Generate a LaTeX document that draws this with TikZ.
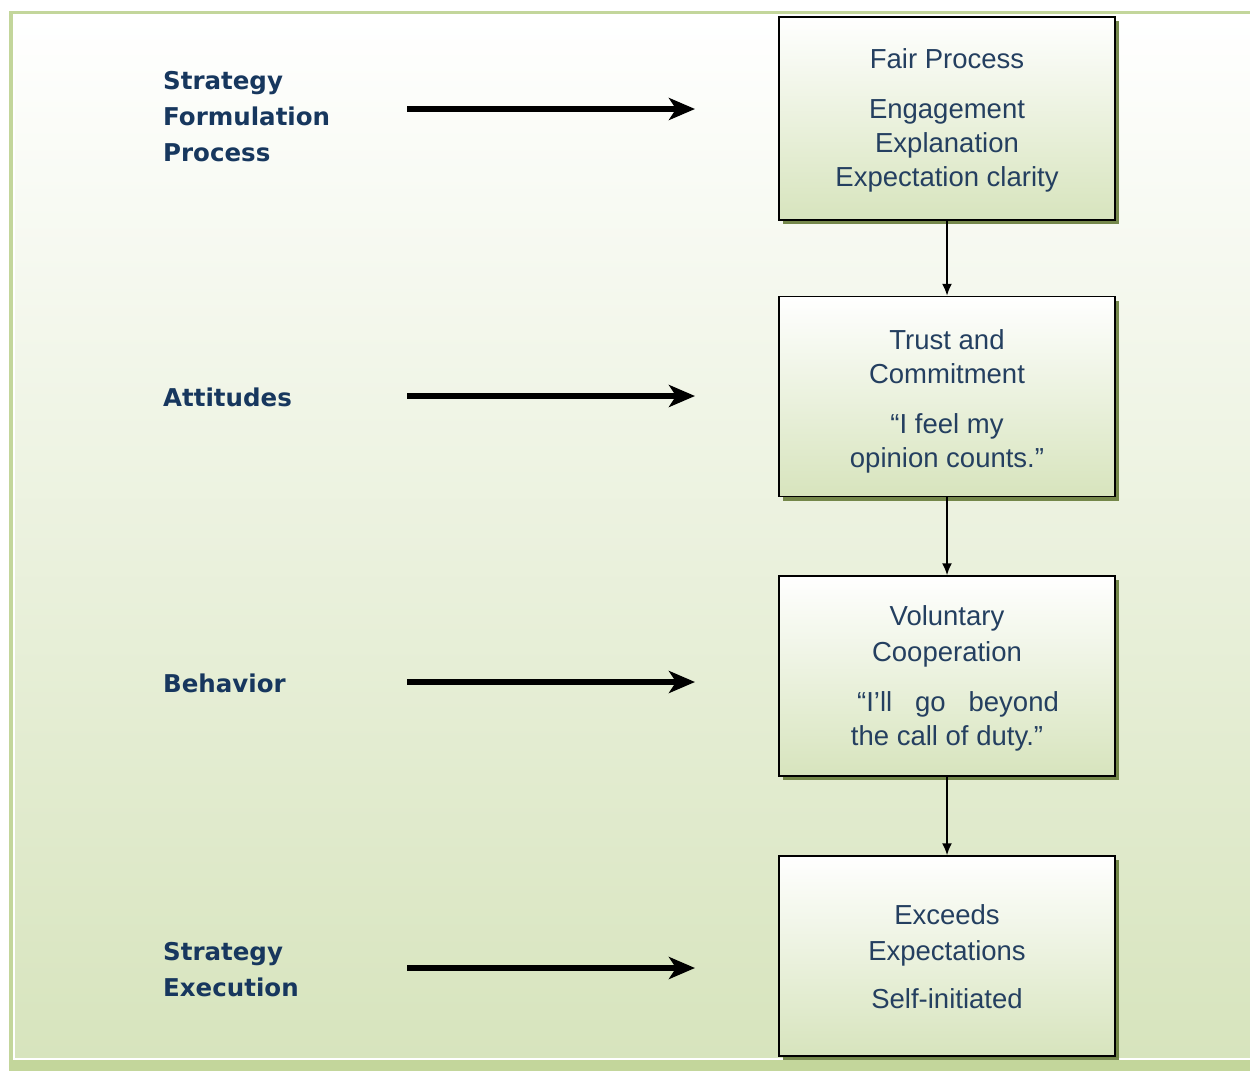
\documentclass[tikz,border=0pt]{standalone}
\usepackage{fontspec}
\setmainfont{Liberation Sans}
\newfontfamily\labelfont{DejaVu Sans}
\usetikzlibrary{calc, shadows, arrows.meta}
\definecolor{panelgreen}{HTML}{D7E4BD}
\definecolor{framegreen}{HTML}{C3D69B}
\definecolor{shadowgreen}{HTML}{5F7530}
\definecolor{labelblue}{HTML}{17375E}
\definecolor{boxblue}{HTML}{243F60}
\tikzset{
	mystage/.style={rectangle, draw=black, line width=1.5pt, top color=white, bottom color=panelgreen,
				minimum width=336pt, minimum height=200pt, inner sep=0pt, align=center,
				text=boxblue, font=\fontsize{27.5}{34}\selectfont,
				drop shadow={shadow xshift=4pt, shadow yshift=-4pt, fill=shadowgreen, opacity=0.85}
				},
	mylabel/.style={anchor=west, align=left, inner sep=0pt, text=labelblue,
				font=\labelfont\bfseries\fontsize{24.5}{36}\selectfont
				},
	mybigarrow/.style={-{Stealth[length=26pt, width=22pt, inset=7pt]}, black, line width=5.5pt
				},
	mystep/.style={-{Latex[length=12pt, width=10pt]}, black, line width=1.8pt
				}
	}

\begin{document}
\begin{tikzpicture}[x=1pt, y=-1pt]

				\useasboundingbox (0,0) rectangle (1250,1071);

				% panel
				\fill[framegreen] (9,11) rectangle (1270,1071);
				\shade[top color=white, bottom color=panelgreen, draw=white, line width=1.5pt]
				(14,15) rectangle (1270,1059);

				\node[mystage] (fair) at (947,118.5) [minimum height=203pt]
				{\rule{0pt}{24pt}Fair Process\\[16pt] Engagement\\ Explanation\\ Expectation clarity};

				\node[mystage] (trust) at (947,396.5)
				{\rule{0pt}{30pt}Trust and\\ Commitment\\[16pt] “I feel my\\ opinion counts.”};

				\node[mystage] (voluntary) at (947,676)
				{\rule{0pt}{24pt}Voluntary\\[2pt] Cooperation\\[16pt] \hspace*{22pt}“I’ll\ \ \ go\ \ \ beyond\\ the call of duty.”};

				\node[mystage] (exceeds) at (947,956)
				{\rule{0pt}{22pt}Exceeds\\[2pt] Expectations\\[14pt] Self-initiated};

				\node[mylabel] (formulation) at (163,117) {Strategy\\Formulation\\Process};
				\node[mylabel] (attitudes) at (163,397) {Attitudes};
				\node[mylabel] (behavior) at (163,683) {Behavior};
				\node[mylabel] (execution) at (163,970) {Strategy\\Execution};

				\coordinate (formulationtail) at (407,109);
				\coordinate (formulationhead) at (695,109);
				\coordinate (attitudestail) at (407,396);
				\coordinate (attitudeshead) at (695,396);
				\coordinate (behaviortail) at (407,682);
				\coordinate (behaviorhead) at (695,682);
				\coordinate (executiontail) at (407,968);
				\coordinate (executionhead) at (695,968);

				\draw[mybigarrow] (formulationtail) -- (formulationhead);
				\draw[mybigarrow] (attitudestail) -- (attitudeshead);
				\draw[mybigarrow] (behaviortail) -- (behaviorhead);
				\draw[mybigarrow] (executiontail) -- (executionhead);

				\draw[mystep] (fair) -- (trust);
				\draw[mystep] (trust) -- (voluntary);
				\draw[mystep] (voluntary) -- (exceeds);

\end{tikzpicture}
\end{document}
